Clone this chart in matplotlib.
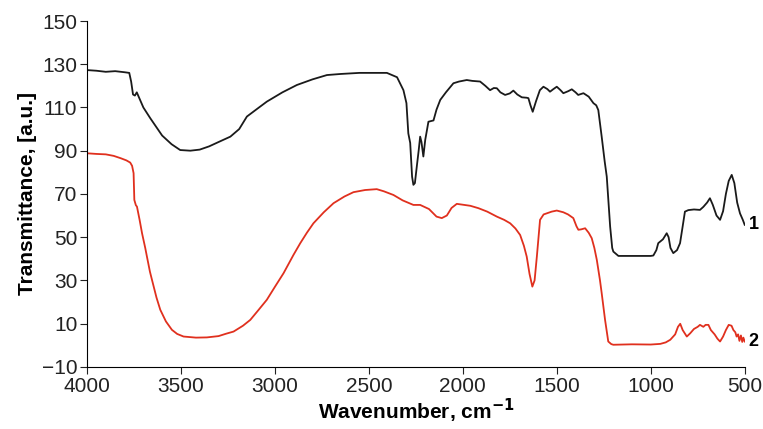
import numpy as np
import matplotlib.pyplot as plt

plt.rcParams["font.family"] = ["Liberation Sans", "DejaVu Sans"]

# curve 1 (black)
wn_1 = [4000, 3950, 3900, 3850, 3800, 3775, 3765, 3755, 3745, 3735, 3725, 3700,
        3663, 3600, 3550, 3504, 3450, 3400, 3350, 3300, 3237, 3190, 3149, 3100,
        3043, 2960, 2883, 2800, 2723, 2650, 2550, 2404, 2350, 2316, 2300, 2290,
        2280, 2270, 2263, 2255, 2245, 2235, 2227, 2220, 2210, 2200, 2183, 2156,
        2140, 2120, 2090, 2050, 2020, 1979, 1950, 1908, 1880, 1855, 1835, 1819,
        1800, 1775, 1750, 1731, 1710, 1686, 1660, 1651, 1640, 1628, 1610, 1590,
        1571, 1550, 1536, 1518, 1500, 1480, 1465, 1440, 1420, 1400, 1386, 1358,
        1330, 1305, 1290, 1279, 1261, 1245, 1234, 1216, 1205, 1199, 1172, 1100,
        1000, 986, 970, 960, 935, 915, 905, 895, 880, 860, 844, 830, 818, 800,
        770, 738, 720, 700, 685, 670, 650, 631, 615, 600, 585, 569, 555, 540,
        525, 510, 500]
t_1 = [127.3, 127.0, 126.5, 126.8, 126.3, 126.0, 122, 116, 115.5, 117, 115, 110,
       105, 97, 93, 90.3, 90, 90.5, 92, 94, 96.5, 100, 105.8, 109,
       112.7, 117, 120.4, 123, 125, 125.5, 126, 126, 124, 118, 112, 98,
       93.6, 78, 74.2, 75, 82.6, 90, 96.5, 94, 87.3, 95, 103.4, 104,
       109, 113.5, 117, 121.2, 122, 122.7, 122.3, 122, 120, 118, 119, 118.9,
       117, 115.8, 116.5, 117.8, 116, 114.7, 114.5, 114.3, 111, 108, 113, 118,
       119.6, 118.5, 117.3, 118.5, 119.6, 118, 116.6, 117.5, 118.4, 117, 115.8, 116.6,
       115, 112, 111, 108.8, 96.5, 85, 78, 54.9, 45, 43.3, 41.3, 41.3,
       41.3, 41.5, 44, 47.2, 49, 51.8, 50, 45, 42.6, 44, 47.2, 55, 61.8, 62.5,
       62.8, 62.6, 64, 66, 68, 65, 60, 58, 62, 70, 76, 78.8, 75, 66,
       61, 58, 55.7]

# curve 2 (red)
wn_2 = [4000, 3950, 3900, 3858, 3820, 3790, 3770, 3760, 3752, 3748, 3740, 3734,
        3720, 3707, 3690, 3681, 3665, 3654, 3630, 3610, 3580, 3548, 3520, 3486,
        3420, 3362, 3300, 3260, 3220, 3170, 3131, 3090, 3043, 3000, 2954, 2901,
        2865, 2830, 2795, 2740, 2688, 2630, 2582, 2520, 2458, 2420, 2369, 2320,
        2263, 2227, 2180, 2140, 2112, 2085, 2060, 2032, 2000, 1960, 1917, 1870,
        1819, 1780, 1748, 1720, 1695, 1675, 1660, 1645, 1630, 1618, 1606, 1595,
        1589, 1570, 1527, 1500, 1465, 1440, 1412, 1395, 1385, 1370, 1349, 1330,
        1314, 1300, 1287, 1270, 1261, 1243, 1226, 1210, 1199, 1100, 1000, 949,
        920, 896, 870, 855, 843, 830, 808, 790, 770, 750, 738, 720, 708, 693,
        680, 660, 645, 631, 615, 600, 585, 570, 560, 550, 543, 535, 528, 520,
        513, 507, 500]
t_2 = [88.8, 88.5, 88.3, 87.6, 86.5, 85.5, 84.5, 83, 79.6, 67.2, 64.8, 64.1,
       58, 51.8, 45, 41, 34, 30.2, 22, 16.4, 11, 7.1, 5.2, 4.0,
       3.5, 3.6, 4.2, 5.3, 6.3, 9, 11.7, 16, 21, 27, 33.3, 41.8,
       47.2, 52, 56.4, 61.5, 65.7, 68.8, 70.8, 71.8, 72.2, 71.2, 69.5, 67,
       64.9, 64.9, 63, 59.5, 58.8, 60, 63.5, 65.4, 65, 64.5, 63.4, 61.8,
       59.5, 58, 56.4, 54, 51, 46, 41, 33, 27.1, 30, 41, 52,
       58, 60.5, 61.8, 62.3, 61.5, 60.5, 58.8, 55, 53.4, 53.6, 54.1, 52,
       49.5, 45, 39.5, 30, 24.1, 11.7, 1.7, 0.5, 0.2, 0.4, 0.3, 0.6,
       1.3, 2.5, 5, 8.5, 9.9, 7, 4, 5.5, 7.5, 8.5, 9.4, 8.5, 9.4, 9.4,
       7, 5, 3, 1.7, 4, 7, 9.4, 9, 7, 6, 4, 5, 2, 4.5,
       1.5, 3.5, 1.7]

x_ticks = [4000, 3500, 3000, 2500, 2000, 1500, 1000, 500]
y_ticks = [-10, 10, 30, 50, 70, 90, 110, 130, 150]

fig = plt.figure(figsize=(7.63, 4.29), dpi=100)
ax = fig.add_axes([0.114, 0.145, 0.862, 0.806])

ax.plot(wn_1, t_1, color="#1a1a1a", linewidth=1.3)
ax.plot(wn_2, t_2, color="#e0301e", linewidth=1.3)

ax.annotate("1", xy=(wn_1[-1], t_1[-1]), xytext=(3, 0), textcoords="offset points",
            ha="left", va="center", fontsize=13, fontweight="bold", annotation_clip=False)
ax.annotate("2", xy=(wn_2[-1], t_2[-1]), xytext=(3, 0), textcoords="offset points",
            ha="left", va="center", fontsize=13, fontweight="bold", annotation_clip=False)

ax.set_xlim(4000, 500)
ax.set_ylim(-10, 150)
ax.set_xticks(x_ticks)
ax.set_yticks(y_ticks)
ax.tick_params(direction="out", length=5, width=0.8, labelsize=15, colors="#222222", pad=2)

for side in ["top", "right"]:
    ax.spines[side].set_visible(False)

ax.set_xlabel("Wavenumber, cm$^{\\mathbf{-1}}$", fontsize=15, fontweight="bold", labelpad=1)
ax.set_ylabel("Transmittance, [a.u.]", fontsize=15, fontweight="bold", labelpad=3)

plt.savefig("out.png", dpi=100)
